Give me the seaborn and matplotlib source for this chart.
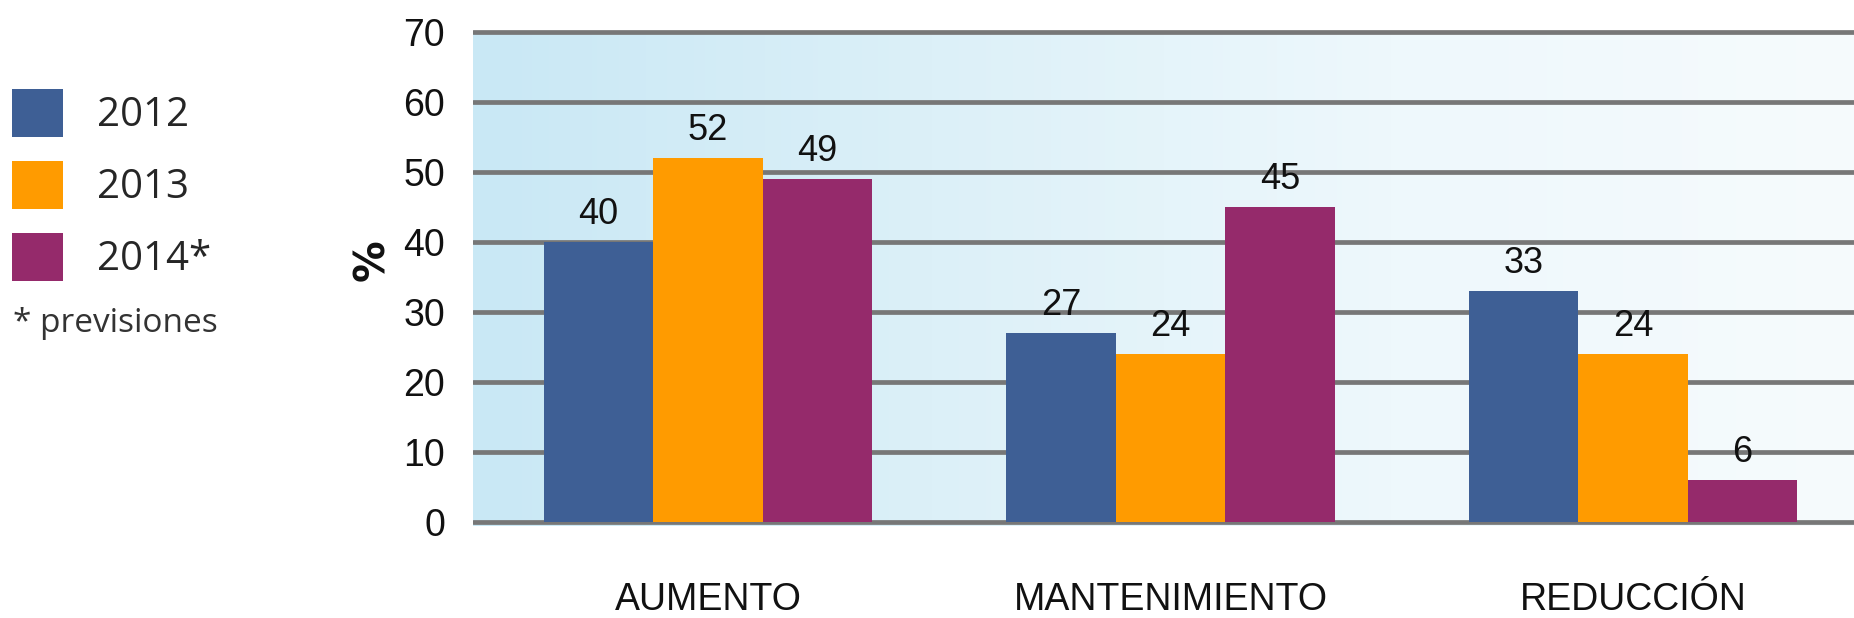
import numpy as np
import pandas as pd
import seaborn as sns
import matplotlib.pyplot as plt
from matplotlib.colors import LinearSegmentedColormap

categorias = ['AUMENTO', 'MANTENIMIENTO', 'REDUCCIÓN']
anios = ['2012', '2013', '2014*']
valores_2012 = [40, 27, 33]
valores_2013 = [52, 24, 24]
valores_2014 = [49, 45, 6]
yticks = [0, 10, 20, 30, 40, 50, 60, 70]

colores = ['#3e5f95', '#ff9b00', '#952a6b']

data = pd.DataFrame({
    'categoria': categorias * 3,
    'anio': [a for a in anios for _ in categorias],
    'valor': valores_2012 + valores_2013 + valores_2014,
})

sns.set_style('white')
plt.rcParams['font.family'] = ['Liberation Sans', 'DejaVu Sans']

fig = plt.figure(figsize=(18.54, 6.18), dpi=100)
ax = fig.add_axes([0.2551, 0.1485, 0.7449, 0.8065])

# fondo tipo acuarela (aproximado con un degradado)
grad = np.linspace(0, 1, 256).reshape(1, -1)
cmap_fondo = LinearSegmentedColormap.from_list('fondo', ['#c9e8f5', '#dcf0f8', '#eef8fc', '#f6fbfd'])
ax.imshow(grad, cmap=cmap_fondo, aspect='auto', extent=[0, 1, 0, 0.99],
          transform=ax.transAxes, zorder=0)

sns.barplot(data=data, x='categoria', y='valor', hue='anio', palette=colores,
            width=0.71, saturation=1, linewidth=0, ax=ax, zorder=3)

for cont in ax.containers:
    ax.bar_label(cont, fontsize=26, padding=7, color='#111111')

ax.set_ylim(-0.6, 70.6)
ax.set_xlim(-0.508, 2.478)
ax.set_yticks(yticks)
ax.yaxis.grid(True, color='#777777', linewidth=3.4, zorder=1)
ax.set_axisbelow(True)
ax.tick_params(axis='y', length=0, pad=20, labelsize=27, labelcolor='#111111')
ax.tick_params(axis='x', length=0, pad=60, labelsize=27, labelcolor='#111111')
plt.setp(ax.get_xticklabels(), va='baseline')
for s in ax.spines.values():
    s.set_visible(False)

ax.set_xlabel('')
ax.set_ylabel('%', fontsize=30, fontweight='bold', family='DejaVu Sans', color='#111111')
ax.yaxis.set_label_coords(-0.058, 0.534)

sns.move_legend(ax, 'upper left', bbox_to_anchor=(0.0065, 0.856), bbox_transform=fig.transFigure,
                frameon=False, title=None, prop={'family': 'Open Sans', 'size': 29},
                handlelength=1.27, handleheight=1.45, labelspacing=0.6, handletextpad=0.84,
                borderaxespad=0, borderpad=0)
fig.text(0.007, 0.463, '* previsiones', fontsize=24, family='Open Sans', color='#333333',
         va='baseline')

plt.savefig('out.png', dpi=100)
